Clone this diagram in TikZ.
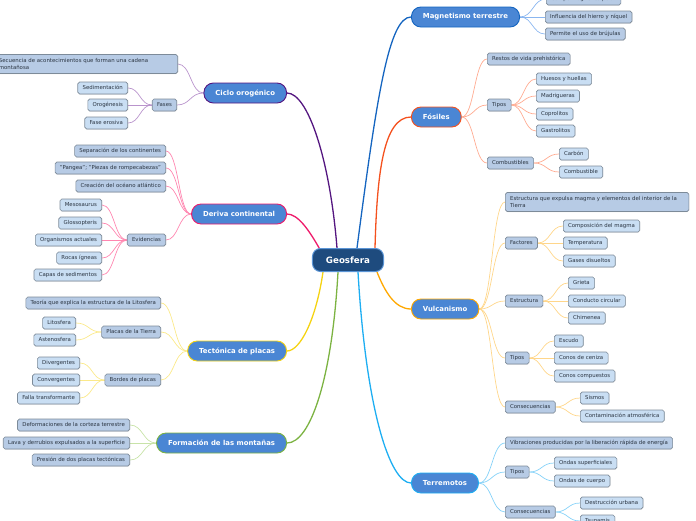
\documentclass[tikz,border=0pt]{standalone}
\usepackage{fontspec}
\setmainfont{DejaVu Sans}
\usetikzlibrary{calc,shadows}
\pgfdeclarelayer{bg}
\pgfsetlayers{bg,main}
\definecolor{geoF}{HTML}{1E4B7E}
\definecolor{geoB}{HTML}{5B95D6}
\definecolor{topicF}{HTML}{4A86D4}
\definecolor{subF}{HTML}{B7CBE5}
\definecolor{leafF}{HTML}{C9DEF3}
\definecolor{boxB}{HTML}{7D8B99}
\definecolor{txt}{HTML}{2B3542}
\definecolor{magC}{HTML}{1565C0}
\definecolor{magL}{HTML}{8AB6F0}
\definecolor{fosC}{HTML}{F4511E}
\definecolor{fosL}{HTML}{FFAB91}
\definecolor{vulC}{HTML}{FFA800}
\definecolor{vulL}{HTML}{FFD68A}
\definecolor{terC}{HTML}{1EAEF2}
\definecolor{terL}{HTML}{86D2F8}
\definecolor{cicC}{HTML}{541680}
\definecolor{cicL}{HTML}{B994CC}
\definecolor{derC}{HTML}{EE1A6A}
\definecolor{derL}{HTML}{FF86B0}
\definecolor{tecC}{HTML}{F5D312}
\definecolor{tecL}{HTML}{FBE98A}
\definecolor{forC}{HTML}{7CB342}
\definecolor{forL}{HTML}{C8E3A8}
\newcommand\myrc[3]{\draw[conn,#1] (#2.east) to (#3.west);}
\newcommand\mylc[3]{\draw[conn,#1] (#2.west) to (#3.east);}
\begin{document}
\begin{tikzpicture}[x=1pt,y=-1pt,
  root/.style={draw=geoB, line width=1pt, fill=geoF, rounded corners=8pt, text=white,
    font=\fontsize{8.7}{10}\selectfont\bfseries, minimum height=23pt, inner xsep=13.5pt, inner ysep=0pt},
  topic/.style={fill=topicF, rounded corners=9.5pt, line width=0.9pt, text=white,
    font=\fontsize{6.9}{8}\selectfont\bfseries, minimum height=20pt, inner xsep=11.5pt, inner ysep=0pt},
  sub/.style={draw=boxB, line width=0.6pt, fill=subF, rounded corners=1.8pt, text=txt,
    font=\fontsize{5.4}{7}\selectfont, minimum height=12pt, inner xsep=4.8pt, inner ysep=1pt,
    text height=4pt, text depth=1.2pt,
    drop shadow={shadow xshift=0.4pt, shadow yshift=-0.6pt, opacity=0.25}},
  leaf/.style={sub, fill=leafF},
  two/.style={sub, text width=174pt, align=left, minimum height=19pt, text height=, text depth=},
  branch/.style={line width=1.3pt},
  conn/.style={line width=0.7pt,
    to path={let \p1=(\tikztostart), \p2=(\tikztotarget), \p3=($(\p1)!0.5!(\p2)$) in
      .. controls (\x3,\y1) and (\x3,\y2) .. (\tikztotarget)}}
]
\useasboundingbox (0,0) rectangle (696,520);

% root and topics
\node[root] (geo) at (348,260) {Geosfera};
\node[topic,draw=magC,anchor=west] (mag) at (411,17) {Magnetismo terrestre};
\node[topic,draw=fosC,anchor=west] (fos) at (411,117) {Fósiles};
\node[topic,draw=vulC,anchor=west] (vul) at (411,309) {Vulcanismo};
\node[topic,draw=terC,anchor=west] (ter) at (411,483) {Terremotos};
\node[topic,draw=cicC,anchor=east] (cic) at (287,93) {Ciclo orogénico};
\node[topic,draw=derC,anchor=east] (der) at (287,214) {Deriva continental};
\node[topic,draw=tecC,anchor=east] (tec) at (287,351) {Tectónica de placas};
\node[topic,draw=forC,anchor=east] (frm) at (287,443) {Formación de las montañas};

% Magnetismo
\node[sub,anchor=west] (m1) at (546,-1) {Campo magnético polar};
\node[sub,anchor=west] (m2) at (545,17) {Influencia del hierro y níquel};
\node[sub,anchor=west] (m3) at (545,34) {Permite el uso de brújulas};

% Fosiles
\node[sub,anchor=west] (f1) at (487,59) {Restos de vida prehistórica};
\node[sub,anchor=west] (f2) at (487,105) {Tipos};
\node[sub,anchor=west] (f3) at (487,163) {Combustibles};
\node[leaf,anchor=west] (f21) at (536,79) {Huesos y huellas};
\node[leaf,anchor=west] (f22) at (536,96) {Madrigueras};
\node[leaf,anchor=west] (f23) at (536,114) {Coprolitos};
\node[leaf,anchor=west] (f24) at (536,131) {Gastrolitos};
\node[leaf,anchor=west] (f31) at (559,154) {Carbón};
\node[leaf,anchor=west] (f32) at (559,172) {Combustible};

% Vulcanismo
\node[two,anchor=west] (v1) at (505,202) {Estructura que expulsa magma y elementos del interior de la\\Tierra};
\node[sub,anchor=west] (v2) at (505,243) {Factores};
\node[sub,anchor=west] (v3) at (505,301) {Estructura};
\node[sub,anchor=west] (v4) at (505,358) {Tipos};
\node[sub,anchor=west] (v5) at (505,407) {Consecuencias};
\node[leaf,anchor=west] (v21) at (563,226) {Composición del magma};
\node[leaf,anchor=west] (v22) at (563,243) {Temperatura};
\node[leaf,anchor=west] (v23) at (563,261) {Gases disueltos};
\node[leaf,anchor=west] (v31) at (568,283) {Grieta};
\node[leaf,anchor=west] (v32) at (568,301) {Conducto circular};
\node[leaf,anchor=west] (v33) at (568,318) {Chimenea};
\node[leaf,anchor=west] (v41) at (554,341) {Escudo};
\node[leaf,anchor=west] (v42) at (554,358) {Conos de ceniza};
\node[leaf,anchor=west] (v43) at (554,376) {Conos compuestos};
\node[leaf,anchor=west] (v51) at (580,398) {Sismos};
\node[leaf,anchor=west] (v52) at (580,416) {Contaminación atmosférica};

% Terremotos
\node[sub,anchor=west] (t1) at (505,443) {Vibraciones producidas por la liberación rápida de energía};
\node[sub,anchor=west] (t2) at (505,472) {Tipos};
\node[sub,anchor=west] (t3) at (505,512) {Consecuencias};
\node[leaf,anchor=west] (t21) at (554,463) {Ondas superficiales};
\node[leaf,anchor=west] (t22) at (554,481) {Ondas de cuerpo};
\node[leaf,anchor=west] (t31) at (580,503) {Destrucción urbana};
\node[leaf,anchor=west] (t32) at (580,521) {Tsunamis};

% Ciclo orogenico
\node[two,anchor=east] (c1) at (178,64) {Secuencia de acontecimientos que forman una cadena\\montañosa};
\node[sub,anchor=east] (c2) at (177,105) {Fases};
\node[leaf,anchor=east] (c21) at (128,88) {Sedimentación};
\node[leaf,anchor=east] (c22) at (128,105) {Orogénesis};
\node[leaf,anchor=east] (c23) at (128,123) {Fase erosiva};

% Deriva continental
\node[sub,anchor=east] (d1) at (166,151) {Separación de los continentes};
\node[sub,anchor=east] (d2) at (166,168) {"Pangea"; "Piezas de rompecabezas"};
\node[sub,anchor=east] (d3) at (166,186) {Creación del océano atlántico};
\node[sub,anchor=east] (d4) at (166,240) {Evidencias};
\node[leaf,anchor=east] (d41) at (102,205) {Mesosaurus};
\node[leaf,anchor=east] (d42) at (102,223) {Glossopteris};
\node[leaf,anchor=east] (d43) at (102,240) {Organismos actuales};
\node[leaf,anchor=east] (d44) at (102,258) {Rocas ígneas};
\node[leaf,anchor=east] (d45) at (102,275) {Capas de sedimentos};

% Tectonica
\node[sub,anchor=east] (p1) at (161,303) {Teoría que explica la estructura de la Litosfera};
\node[sub,anchor=east] (p2) at (161,332) {Placas de la Tierra};
\node[sub,anchor=east] (p3) at (161,380) {Bordes de placas};
\node[leaf,anchor=east] (p21) at (76,323) {Litosfera};
\node[leaf,anchor=east] (p22) at (76,340) {Astenosfera};
\node[leaf,anchor=east] (p31) at (80,363) {Divergentes};
\node[leaf,anchor=east] (p32) at (80,380) {Convergentes};
\node[leaf,anchor=east] (p33) at (80,398) {Falla transformante};

% Formacion
\node[sub,anchor=east] (o1) at (130,425) {Deformaciones de la corteza terrestre};
\node[sub,anchor=east] (o2) at (130,443) {Lava y derrubios expulsados a la superficie};
\node[sub,anchor=east] (o3) at (130,460) {Presión de dos placas tectónicas};

\begin{pgfonlayer}{bg}
% main branches
\draw[branch,magC] ([xshift=9pt]geo.north) .. controls (377,95) and (389,17) .. (mag.west);
\draw[branch,fosC] ([xshift=27pt]geo.north) .. controls (377,175) and (383,117) .. (fos.west);
\draw[branch,vulC] ([xshift=29pt]geo.south) .. controls (385,292) and (395,309) .. (vul.west);
\draw[branch,terC] ([xshift=10pt]geo.south) .. controls (366,410) and (390,483) .. (ter.west);
\draw[branch,cicC] ([xshift=-11pt]geo.north) .. controls (330,160) and (308,93) .. (cic.east);
\draw[branch,derC] ([xshift=-28pt,yshift=-1.5pt]geo.north) .. controls (309,230) and (298,214) .. (der.east);
\draw[branch,tecC] ([xshift=-25pt]geo.south) .. controls (316,320) and (300,351) .. (tec.east);
\draw[branch,forC] ([xshift=-10pt]geo.south) .. controls (332,380) and (310,443) .. (frm.east);

% sub connectors
\myrc{magL}{mag}{m1}\myrc{magL}{mag}{m2}\myrc{magL}{mag}{m3}
\myrc{fosL}{fos}{f1}\myrc{fosL}{fos}{f2}\myrc{fosL}{fos}{f3}
\myrc{fosL}{f2}{f21}\myrc{fosL}{f2}{f22}\myrc{fosL}{f2}{f23}\myrc{fosL}{f2}{f24}
\myrc{fosL}{f3}{f31}\myrc{fosL}{f3}{f32}
\myrc{vulL}{vul}{v1}\myrc{vulL}{vul}{v2}\myrc{vulL}{vul}{v3}\myrc{vulL}{vul}{v4}\myrc{vulL}{vul}{v5}
\myrc{vulL}{v2}{v21}\myrc{vulL}{v2}{v22}\myrc{vulL}{v2}{v23}
\myrc{vulL}{v3}{v31}\myrc{vulL}{v3}{v32}\myrc{vulL}{v3}{v33}
\myrc{vulL}{v4}{v41}\myrc{vulL}{v4}{v42}\myrc{vulL}{v4}{v43}
\myrc{vulL}{v5}{v51}\myrc{vulL}{v5}{v52}
\myrc{terL}{ter}{t1}\myrc{terL}{ter}{t2}\myrc{terL}{ter}{t3}
\myrc{terL}{t2}{t21}\myrc{terL}{t2}{t22}
\myrc{terL}{t3}{t31}\myrc{terL}{t3}{t32}
\mylc{cicL}{cic}{c1}\mylc{cicL}{cic}{c2}
\mylc{cicL}{c2}{c21}\mylc{cicL}{c2}{c22}\mylc{cicL}{c2}{c23}
\mylc{derL}{der}{d1}\mylc{derL}{der}{d2}\mylc{derL}{der}{d3}\mylc{derL}{der}{d4}
\mylc{derL}{d4}{d41}\mylc{derL}{d4}{d42}\mylc{derL}{d4}{d43}\mylc{derL}{d4}{d44}\mylc{derL}{d4}{d45}
\mylc{tecL}{tec}{p1}\mylc{tecL}{tec}{p2}\mylc{tecL}{tec}{p3}
\mylc{tecL}{p2}{p21}\mylc{tecL}{p2}{p22}
\mylc{tecL}{p3}{p31}\mylc{tecL}{p3}{p32}\mylc{tecL}{p3}{p33}
\mylc{forL}{frm}{o1}\mylc{forL}{frm}{o2}\mylc{forL}{frm}{o3}
\end{pgfonlayer}
\end{tikzpicture}
\end{document}
